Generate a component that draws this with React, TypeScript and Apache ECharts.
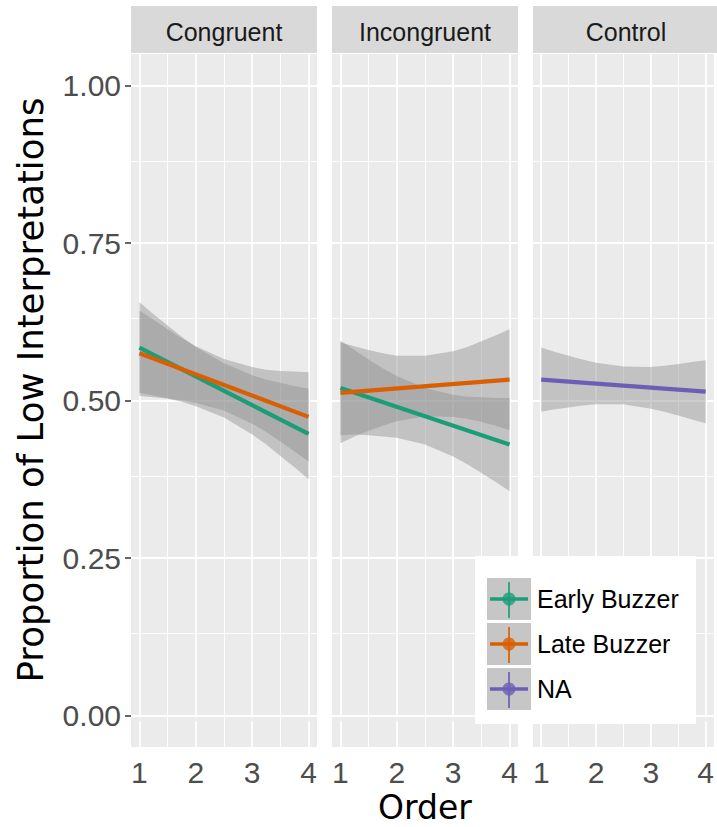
import React, { useEffect, useRef } from "react";
import * as echarts from "echarts";

// ---------- data ----------
const panels = ["Congruent", "Incongruent", "Control"];
const groups = ["Early Buzzer", "Late Buzzer", "NA"];
const groupColors = ["#1B9E77", "#D95F02", "#6B5FB5"];

const xTicks = [1, 2, 3, 4];
const yTicks = [0, 0.25, 0.5, 0.75, 1];
const xMinorGrid = [1.5, 2.5, 3.5];
const yMinorGrid = [0.125, 0.375, 0.625, 0.875];

// fitted line values at Order = 1 and Order = 4
const lineX = [1, 4];
const congruentEarly = [0.584, 0.447];
const congruentLate = [0.575, 0.474];
const incongruentEarly = [0.52, 0.43];
const incongruentLate = [0.512, 0.533];
const controlNA = [0.533, 0.514];

// confidence bands read at these Order values
const bandX = [1, 1.25, 1.5, 1.75, 2, 2.5, 3, 3.25, 3.5, 3.75, 4];
const congruentEarlyLow = [0.512, 0.508, 0.503, 0.498, 0.491, 0.473, 0.446, 0.43, 0.412, 0.394, 0.375];
const congruentEarlyHigh = [0.656, 0.637, 0.619, 0.601, 0.585, 0.559, 0.54, 0.533, 0.528, 0.523, 0.519];
const congruentLateLow = [0.507, 0.505, 0.503, 0.5, 0.496, 0.484, 0.463, 0.45, 0.435, 0.419, 0.403];
const congruentLateHigh = [0.643, 0.628, 0.613, 0.599, 0.586, 0.566, 0.553, 0.549, 0.547, 0.546, 0.545];
const incongruentEarlyLow = [0.445, 0.446, 0.445, 0.443, 0.441, 0.43, 0.411, 0.399, 0.385, 0.371, 0.356];
const incongruentEarlyHigh = [0.595, 0.58, 0.565, 0.551, 0.539, 0.52, 0.509, 0.506, 0.505, 0.504, 0.504];
const incongruentLateLow = [0.432, 0.443, 0.452, 0.46, 0.467, 0.475, 0.474, 0.471, 0.466, 0.46, 0.453];
const incongruentLateHigh = [0.592, 0.586, 0.58, 0.575, 0.571, 0.571, 0.578, 0.585, 0.594, 0.603, 0.613];
const controlNALow = [0.482, 0.486, 0.489, 0.492, 0.494, 0.494, 0.487, 0.482, 0.476, 0.47, 0.464];
const controlNAHigh = [0.584, 0.577, 0.571, 0.565, 0.56, 0.554, 0.553, 0.555, 0.558, 0.561, 0.564];

type Fit = { panel: number; group: number; line: number[]; low: number[]; high: number[] };
const fits: Fit[] = [
  { panel: 0, group: 0, line: congruentEarly, low: congruentEarlyLow, high: congruentEarlyHigh },
  { panel: 0, group: 1, line: congruentLate, low: congruentLateLow, high: congruentLateHigh },
  { panel: 1, group: 0, line: incongruentEarly, low: incongruentEarlyLow, high: incongruentEarlyHigh },
  { panel: 1, group: 1, line: incongruentLate, low: incongruentLateLow, high: incongruentLateHigh },
  { panel: 2, group: 2, line: controlNA, low: controlNALow, high: controlNAHigh },
];

const yTitle = "Proportion of Low Interpretations";
const xTitle = "Order";

// ---------- layout ----------
const W = 717;
const H = 827;
const gridLefts = [131, 332, 533];
const gridW = 186;
const gridTop = 54;
const gridH = 693;
const FONT = '"Liberation Sans", Arial, Helvetica, sans-serif';
const TITLE_FONT = '"DejaVu Sans", "Liberation Sans", sans-serif';
const BAND = "rgba(145,145,145,0.45)";

export default function App() {
  const ref = useRef<HTMLDivElement>(null);

  useEffect(() => {
    if (!ref.current) return;
    const chart = echarts.init(ref.current, null, { renderer: "svg" });

    const series: any[] = [];

    panels.forEach((_, i) => {
      const ml: any[] = [];
      xTicks.forEach((v) => ml.push({ xAxis: v, lineStyle: { color: "#FFFFFF", width: 1.8, type: "solid" } }));
      xMinorGrid.forEach((v) => ml.push({ xAxis: v, lineStyle: { color: "#FFFFFF", width: 0.9, type: "solid" } }));
      yTicks.forEach((v) => ml.push({ yAxis: v, lineStyle: { color: "#FFFFFF", width: 1.8, type: "solid" } }));
      yMinorGrid.forEach((v) => ml.push({ yAxis: v, lineStyle: { color: "#FFFFFF", width: 0.9, type: "solid" } }));
      series.push({
        type: "line",
        xAxisIndex: i,
        yAxisIndex: i,
        data: [[2.5, 0.5]],
        symbol: "none",
        lineStyle: { opacity: 0 },
        silent: true,
        z: 1,
        markLine: {
          silent: true,
          z: 1,
          symbol: ["none", "none"],
          label: { show: false },
          emphasis: { disabled: true },
          data: ml,
        },
      });
    });

    fits.forEach((f) => {
      series.push({
        type: "custom",
        xAxisIndex: f.panel,
        yAxisIndex: f.panel,
        silent: true,
        z: 3,
        clip: true,
        data: bandX.map((x, j) => [x, f.low[j], f.high[j]]),
        encode: { x: 0, y: [1, 2] },
        renderItem: (params: any, api: any) => {
          if (params.dataIndex !== 0) return null;
          const upper = bandX.map((x, j) => api.coord([x, f.high[j]]));
          const lower = bandX.map((x, j) => api.coord([x, f.low[j]])).reverse();
          return {
            type: "polygon",
            shape: { points: upper.concat(lower) },
            style: { fill: BAND, stroke: "none" },
          };
        },
      });
    });

    fits.forEach((f) => {
      series.push({
        type: "line",
        xAxisIndex: f.panel,
        yAxisIndex: f.panel,
        symbol: "none",
        silent: true,
        z: 4,
        lineStyle: { color: groupColors[f.group], width: 4.2 },
        data: lineX.map((x, j) => [x, f.line[j]]),
      });
    });

    const graphic: any[] = [];
    panels.forEach((p, i) => {
      graphic.push({
        type: "rect",
        shape: { x: gridLefts[i], y: 6, width: gridW, height: 47 },
        style: { fill: "#D9D9D9" },
        silent: true,
      });
      graphic.push({
        type: "text",
        x: gridLefts[i] + gridW / 2,
        y: 32,
        style: {
          text: p,
          fill: "#1A1A1A",
          fontSize: 25,
          fontFamily: FONT,
          align: "center",
          verticalAlign: "middle",
          textAlign: "center",
          textVerticalAlign: "middle",
        },
        silent: true,
      });
    });

    graphic.push({
      type: "text",
      x: 30,
      y: 390,
      rotation: Math.PI / 2,
      style: {
        text: yTitle,
        fill: "#000000",
        fontSize: 35.5,
        fontFamily: TITLE_FONT,
        align: "center",
        verticalAlign: "middle",
        textAlign: "center",
        textVerticalAlign: "middle",
      },
      silent: true,
    });
    graphic.push({
      type: "text",
      x: 425,
      y: 807,
      style: {
        text: xTitle,
        fill: "#000000",
        fontSize: 33,
        fontFamily: TITLE_FONT,
        align: "center",
        verticalAlign: "middle",
        textAlign: "center",
        textVerticalAlign: "middle",
      },
      silent: true,
    });

    // legend
    graphic.push({
      type: "rect",
      shape: { x: 475, y: 556, width: 221, height: 168 },
      style: { fill: "#FFFFFF" },
      silent: true,
      z: 10,
    });
    const keyTops = [578, 623, 668];
    groups.forEach((g, i) => {
      const top = keyTops[i];
      const cy = top + 21;
      const cx = 509;
      graphic.push({
        type: "rect",
        shape: { x: 487, y: top, width: 44, height: 42 },
        style: { fill: "#C6C6C6" },
        silent: true,
        z: 11,
      });
      graphic.push({
        type: "line",
        shape: { x1: 490, y1: cy, x2: 528, y2: cy },
        style: { stroke: groupColors[i], lineWidth: 3.5 },
        silent: true,
        z: 12,
      });
      graphic.push({
        type: "line",
        shape: { x1: cx, y1: top + 4, x2: cx, y2: top + 40 },
        style: { stroke: groupColors[i], lineWidth: 2, opacity: 0.85 },
        silent: true,
        z: 12,
      });
      graphic.push({
        type: "circle",
        shape: { cx, cy, r: 6.5 },
        style: { fill: groupColors[i], opacity: 0.8 },
        silent: true,
        z: 12,
      });
      graphic.push({
        type: "text",
        x: 537,
        y: cy,
        style: {
          text: g,
          fill: "#000000",
          fontSize: 25,
          fontFamily: FONT,
          align: "left",
          verticalAlign: "middle",
          textAlign: "left",
          textVerticalAlign: "middle",
        },
        silent: true,
        z: 12,
      });
    });

    const option: any = {
      animation: false,
      backgroundColor: "#FFFFFF",
      grid: panels.map((_, i) => ({
        left: gridLefts[i],
        top: gridTop,
        width: gridW,
        height: gridH,
        show: true,
        backgroundColor: "#EBEBEB",
        borderWidth: 0,
      })),
      xAxis: panels.map((_, i) => ({
        gridIndex: i,
        type: "value",
        min: 0.85,
        max: 4.15,
        axisLine: { show: false },
        splitLine: { show: false },
        axisTick: {
          show: true,
          customValues: xTicks,
          length: 6,
          lineStyle: { color: "#333333", width: 1.5 },
        },
        axisLabel: {
          show: true,
          customValues: xTicks,
          fontSize: 30,
          color: "#4D4D4D",
          fontFamily: FONT,
          margin: 10,
          formatter: (v: number) => String(v),
        },
      })),
      yAxis: panels.map((_, i) => ({
        gridIndex: i,
        type: "value",
        min: -0.05,
        max: 1.05,
        axisLine: { show: false },
        splitLine: { show: false },
        axisTick: {
          show: i === 0,
          customValues: yTicks,
          length: 6,
          lineStyle: { color: "#333333", width: 1.5 },
        },
        axisLabel: {
          show: i === 0,
          customValues: yTicks,
          fontSize: 30,
          color: "#4D4D4D",
          fontFamily: FONT,
          margin: 10,
          formatter: (v: number) => v.toFixed(2),
        },
      })),
      series,
      graphic,
    };

    chart.setOption(option);
    return () => chart.dispose();
  }, []);

  return (
    <div
      ref={ref}
      style={{ position: "fixed", left: 0, top: 0, width: W, height: H, background: "#FFFFFF" }}
    />
  );
}
